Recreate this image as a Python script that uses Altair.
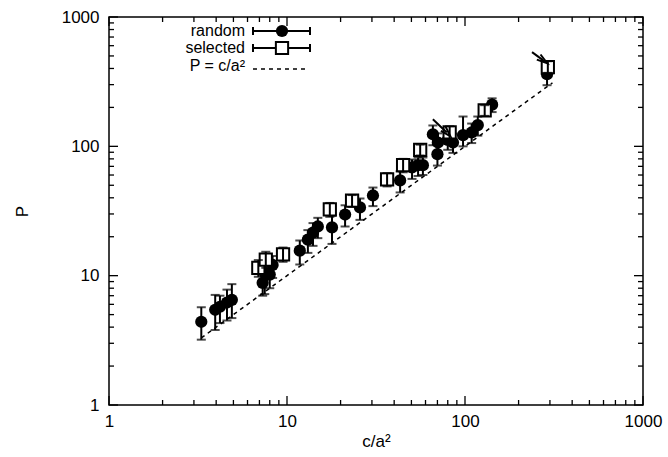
import altair as alt
import pandas as pd

# ---- data ----
random_x = [3.3, 3.95, 4.2, 4.6, 4.9, 7.3, 7.5, 8.0, 8.3, 11.8, 13.1, 14.0, 14.9, 17.9, 21.2,
            25.7, 30.4, 43.2, 50.4, 54.5, 58.0, 66.0, 70.0, 70.5, 80.0, 85.6, 97.5, 109, 118, 142, 289]
random_p = [4.4, 5.45, 5.75, 6.2, 6.5, 8.8, 10.5, 10.2, 12.1, 15.6, 19.0, 21.5, 24.0, 23.6, 29.7,
            33.7, 41.7, 54.5, 68.7, 71.5, 71.5, 124, 87, 107, 112, 107, 122, 128, 146, 210, 361]
random_lo = [3.2, 3.8, 4.3, 4.5, 4.7, 7.0, 7.2, 8.0, 9.6, 12.2, 15.0, 17.0, 19.5, 17.6, 24.0,
             27.0, 34.5, 44.0, 56.0, 59.0, 60.0, 102, 71, 88, 94, 89, 100, 106, 121, 184, 297]
random_hi = [5.7, 7.1, 7.0, 7.8, 8.6, 10.8, 12.5, 12.6, 14.2, 18.7, 22.5, 25.5, 28.0, 29.0, 35.0,
             39.5, 48.0, 64.0, 79.0, 82.0, 82.0, 145, 103, 126, 131, 125, 170, 150, 170, 235, 430]

selected_x = [6.9, 7.6, 9.5, 17.4, 23.2, 36.5, 44.9, 56, 82, 129, 292]
selected_p = [11.5, 13.3, 14.6, 32.5, 38.1, 55.5, 71.5, 94, 128, 190, 410]
selected_lo = [9.8, 11.5, 12.8, 28.5, 34, 49, 63, 85, 114, 172, 370]
selected_hi = [13.2, 15.3, 16.5, 36.5, 42, 62, 80, 103, 143, 208, 455]

line_x = [3.3, 310]          # P = c/a^2 reference line

arrow_x = [66, 238]
arrow_p = [162, 535]
arrow_x2 = [79, 274]
arrow_p2 = [128, 464]
arrow_angle = [137, 126]

major_ticks = [1, 10, 100, 1000]
minor_ticks = [2, 3, 4, 5, 6, 7, 8, 9, 20, 30, 40, 50, 60, 70, 80, 90,
               200, 300, 400, 500, 600, 700, 800, 900]
legend_labels = ["random", "selected", "P = c/a²"]

# ---- layout ----
W, H = 534, 388
FONT = "Liberation Sans"
FS = 17
LFS = 16

rand_df = pd.DataFrame({"x": random_x, "p": random_p, "lo": random_lo, "hi": random_hi})
sel_df = pd.DataFrame({"x": selected_x, "p": selected_p, "lo": selected_lo, "hi": selected_hi})
line_df = pd.DataFrame({"x": line_x, "p": line_x})
arrow_df = pd.DataFrame({"x": arrow_x, "p": arrow_p, "x2": arrow_x2, "p2": arrow_p2, "ang": arrow_angle})
major_df = pd.DataFrame({"v": major_ticks})
minor_df = pd.DataFrame({"v": minor_ticks})

xs = alt.Scale(type="log", domain=[1, 1000], nice=False)
ys = alt.Scale(type="log", domain=[1, 1000], nice=False)
xaxis = alt.Axis(values=major_ticks, format="d", tickSize=0, domain=False, grid=False,
                 labelPadding=8, title="c/a²", titlePadding=4, labelFlush=False)
yaxis = alt.Axis(values=major_ticks, format="d", tickSize=0, domain=False, grid=False,
                 labelPadding=10, title="P", titlePadding=30, labelFlush=False)

X = lambda f="x": alt.X(f"{f}:Q", scale=xs, axis=xaxis)
Y = lambda f="p": alt.Y(f"{f}:Q", scale=ys, axis=yaxis)

layers = []

# inward ticks on all four sides
for df, ln in [(major_df, 9), (minor_df, 5)]:
    layers.append(alt.Chart(df).mark_rule(color="black", strokeWidth=1.3).encode(
        x=X("v"), y=alt.value(H), y2=alt.value(H - ln)))
    layers.append(alt.Chart(df).mark_rule(color="black", strokeWidth=1.3).encode(
        x=X("v"), y=alt.value(0), y2=alt.value(ln)))
    layers.append(alt.Chart(df).mark_rule(color="black", strokeWidth=1.3).encode(
        y=Y("v"), x=alt.value(0), x2=alt.value(ln)))
    layers.append(alt.Chart(df).mark_rule(color="black", strokeWidth=1.3).encode(
        y=Y("v"), x=alt.value(W), x2=alt.value(W - ln)))

# reference line
layers.append(alt.Chart(line_df).mark_line(color="black", strokeWidth=1.5, strokeDash=[4, 4]).encode(
    x=X(), y=Y()))

def errbars(df):
    out = []
    out.append(alt.Chart(df).mark_rule(color="black", strokeWidth=2).encode(x=X(), y=Y("lo"), y2="hi:Q"))
    out.append(alt.Chart(df).mark_tick(color="black", orient="horizontal", size=9, thickness=2).encode(x=X(), y=Y("lo")))
    out.append(alt.Chart(df).mark_tick(color="black", orient="horizontal", size=9, thickness=2).encode(x=X(), y=Y("hi")))
    return out

layers += errbars(rand_df)
layers.append(alt.Chart(rand_df).mark_point(shape="circle", filled=True, color="black", size=150, opacity=1).encode(
    x=X(), y=Y()))
layers.append(alt.Chart(sel_df).mark_point(shape="square", filled=True, fill="white", stroke="black",
                                           strokeWidth=2, size=150, opacity=1).encode(x=X(), y=Y()))
layers += errbars(sel_df)

# arrows
layers.append(alt.Chart(arrow_df).mark_rule(color="black", strokeWidth=2).encode(
    x=X(), y=Y(), x2="x2:Q", y2="p2:Q"))
layers.append(alt.Chart(arrow_df).mark_point(shape="M -0.6 1 L 0 -1 L 0.6 1", filled=False, color="black",
                                             strokeWidth=2, size=110, opacity=1).encode(
    x=X("x2"), y=Y("p2"), angle=alt.Angle("ang:Q", scale=None)))

# legend (inside plot, top-left)
LX_T = 136
LX0, LX1, LXC = 144, 201, 173
rows = [14, 31, 49]
for lbl, ry in zip(legend_labels, rows):
    layers.append(alt.Chart(pd.DataFrame({"t": [lbl]})).mark_text(
        align="right", baseline="middle", font=FONT, fontSize=LFS, color="black").encode(
        text="t:N", x=alt.value(LX_T), y=alt.value(ry)))
for ry in rows[:2]:
    one = pd.DataFrame({"t": [0]})
    layers.append(alt.Chart(one).mark_rule(color="black", strokeWidth=2).encode(
        x=alt.value(LX0), x2=alt.value(LX1), y=alt.value(ry)))
    layers.append(alt.Chart(one).mark_rule(color="black", strokeWidth=2).encode(
        x=alt.value(LX0), y=alt.value(ry - 4), y2=alt.value(ry + 4)))
    layers.append(alt.Chart(one).mark_rule(color="black", strokeWidth=2).encode(
        x=alt.value(LX1), y=alt.value(ry - 4), y2=alt.value(ry + 4)))
one = pd.DataFrame({"t": [0]})
layers.append(alt.Chart(one).mark_point(shape="circle", filled=True, color="black", size=150, opacity=1).encode(
    x=alt.value(LXC), y=alt.value(rows[0])))
layers.append(alt.Chart(one).mark_point(shape="square", filled=True, fill="white", stroke="black",
                                        strokeWidth=2, size=150, opacity=1).encode(
    x=alt.value(LXC), y=alt.value(rows[1])))
layers.append(alt.Chart(one).mark_rule(color="black", strokeWidth=1.5, strokeDash=[4, 4]).encode(
    x=alt.value(LX0), x2=alt.value(LX1 - 2), y=alt.value(rows[2] + 3)))

chart = alt.layer(*layers).properties(
    width=W, height=H,
    padding={"left": 109, "top": 17, "right": 25, "bottom": 52},
    autosize=alt.AutoSizeParams(type="none"),
    background="white",
).configure_view(stroke="black", strokeWidth=1.5).configure_axis(
    labelFont=FONT, titleFont=FONT, labelFontSize=FS, titleFontSize=FS,
    titleFontWeight="normal", labelColor="black", titleColor="black",
)

chart.save("out.html", embed_options={"renderer": "svg", "actions": False})
